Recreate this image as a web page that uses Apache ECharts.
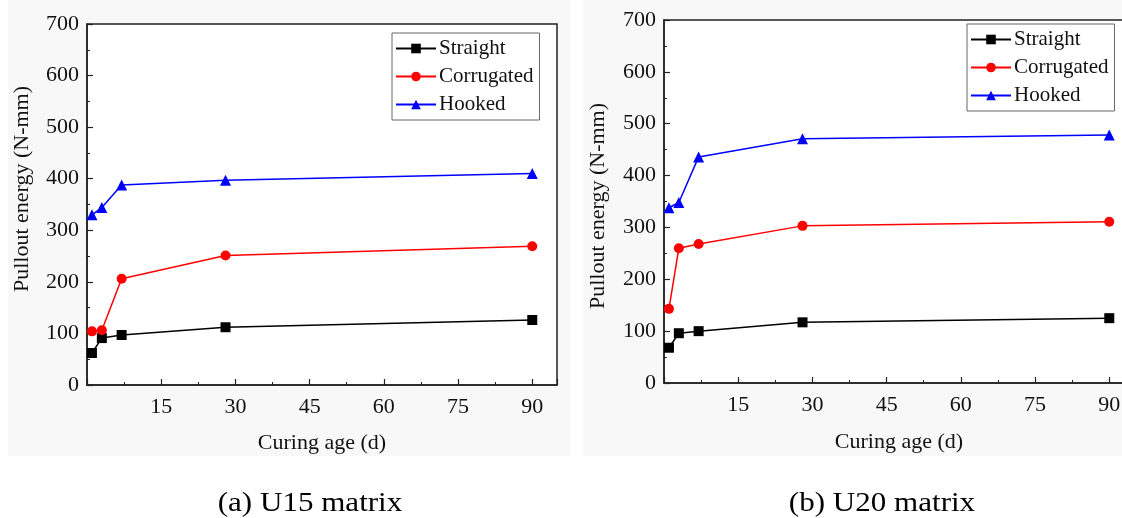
<!DOCTYPE html>
<html>
<head>
<meta charset="utf-8">
<script src="https://cdn.jsdelivr.net/npm/echarts@6/dist/echarts.min.js"></script>
<style>
html,body{margin:0;padding:0;background:#fff;}
#chart{width:1122px;height:518px;}
</style>
</head>
<body>
<div id="chart"></div>
<script>
// Curing ages (days)
const curingAge = [1, 3, 7, 28, 90];
const seriesNames = ['Straight', 'Corrugated', 'Hooked'];
// (a) U15 matrix
const u15Straight   = [62, 91, 97, 112, 126];
const u15Corrugated = [104, 106, 206, 251, 269];
const u15Hooked     = [330, 344, 388, 397, 410];
// (b) U20 matrix
const u20Straight   = [68, 96, 100, 117, 125];
const u20Corrugated = [143, 260, 268, 303, 311];
const u20Hooked     = [338, 348, 436, 471, 478];
const xTicks = [15, 30, 45, 60, 75, 90];
const panelCaptions = ['(a) U15 matrix', '(b) U20 matrix'];
const yTitle = 'Pullout energy (N-mm)';
const xTitle = 'Curing age (d)';

const FONT = '"Liberation Serif", "Times New Roman", serif';
const colors = ['#000000', '#ff0000', '#0000ff'];
const symbols = ['rect', 'circle', 'triangle'];
const symSizes = [10, 10, 11];

function pairs(ys) { return curingAge.map((x, i) => [x, ys[i]]); }

function xAxisDef(gi) {
  return {
    gridIndex: gi, type: 'value', min: 0, max: 95, interval: 15,
    axisLine: { show: true, lineStyle: { color: '#222', width: 1.5 } },
    axisTick: { show: true, inside: true, length: 6, lineStyle: { color: '#222', width: 1.2 } },
    minorTick: { show: true, splitNumber: 2, length: 3, lineStyle: { color: '#222', width: 1 } },
    splitLine: { show: false },
    axisLabel: {
      margin: 11, color: '#111', fontFamily: FONT, fontSize: 22,
      formatter: v => (xTicks.indexOf(v) >= 0 ? String(v) : '')
    }
  };
}
function yAxisDef(gi) {
  return {
    gridIndex: gi, type: 'value', min: 0, max: 700, interval: 100,
    axisLine: { show: true, lineStyle: { color: '#222', width: 1.5 } },
    axisTick: { show: true, inside: true, length: 6, lineStyle: { color: '#222', width: 1.2 } },
    minorTick: { show: true, splitNumber: 2, length: 3, lineStyle: { color: '#222', width: 1 } },
    splitLine: { show: false },
    axisLabel: { margin: 8, color: '#111', fontFamily: FONT, fontSize: 22 }
  };
}
function lineSeries(name, idx, data, gi) {
  return {
    name: name, type: 'line', xAxisIndex: gi, yAxisIndex: gi,
    data: pairs(data), symbol: symbols[idx], symbolSize: symSizes[idx],
    lineStyle: { color: colors[idx], width: 1.5 },
    itemStyle: { color: colors[idx] },
    emphasis: { disabled: true }, animation: false, z: 3 + idx
  };
}
function legendDef(left, top) {
  return {
    orient: 'vertical', left: left, top: top, data: seriesNames,
    itemWidth: 40, itemHeight: 12, itemGap: 7,
    padding: [5, 6, 5, 3],
    borderColor: '#666', borderWidth: 1, backgroundColor: '#fff',
    textStyle: { fontFamily: FONT, fontSize: 21, color: '#111', padding: [0, 0, 0, -2] },
    selectedMode: false
  };
}

const chart = echarts.init(document.getElementById('chart'), null, { renderer: 'canvas' });
chart.setOption({
  backgroundColor: '#ffffff',
  animation: false,
  graphic: [
    { type: 'rect', shape: { x: 8, y: 0, width: 562, height: 456 }, style: { fill: '#f8f8f8' }, z: -10, silent: true },
    { type: 'rect', shape: { x: 583, y: 0, width: 539, height: 456 }, style: { fill: '#f8f8f8' }, z: -10, silent: true },
    { type: 'text', x: 22, y: 189, rotation: Math.PI / 2, style: { text: yTitle, font: '22px ' + FONT, fill: '#111', textAlign: 'center', textVerticalAlign: 'middle' } },
    { type: 'text', x: 598, y: 206, rotation: Math.PI / 2, style: { text: yTitle, font: '22px ' + FONT, fill: '#111', textAlign: 'center', textVerticalAlign: 'middle' } },
    { type: 'text', x: 322, y: 443, style: { text: xTitle, font: '22px ' + FONT, fill: '#111', textAlign: 'center', textVerticalAlign: 'middle' } },
    { type: 'text', x: 899, y: 442, style: { text: xTitle, font: '22px ' + FONT, fill: '#111', textAlign: 'center', textVerticalAlign: 'middle' } },
    { type: 'text', x: 310, y: 504, scaleX: 1.15, style: { text: panelCaptions[0], font: '27px ' + FONT, fill: '#000', textAlign: 'center', textVerticalAlign: 'middle' } },
    { type: 'text', x: 882, y: 504, scaleX: 1.15, style: { text: panelCaptions[1], font: '27px ' + FONT, fill: '#000', textAlign: 'center', textVerticalAlign: 'middle' } }
  ],
  grid: [
    { left: 87, top: 24, width: 470, height: 361, show: true, backgroundColor: '#fff', borderColor: '#222', borderWidth: 1.5, containLabel: false, outerBoundsMode: 'none' },
    { left: 664, top: 20, width: 470, height: 363, show: true, backgroundColor: '#fff', borderColor: '#222', borderWidth: 1.5, containLabel: false, outerBoundsMode: 'none' }
  ],
  xAxis: [xAxisDef(0), xAxisDef(1)],
  yAxis: [yAxisDef(0), yAxisDef(1)],
  legend: [legendDef(392, 33), legendDef(967, 24)],
  series: [
    lineSeries(seriesNames[0], 0, u15Straight, 0),
    lineSeries(seriesNames[1], 1, u15Corrugated, 0),
    lineSeries(seriesNames[2], 2, u15Hooked, 0),
    lineSeries(seriesNames[0], 0, u20Straight, 1),
    lineSeries(seriesNames[1], 1, u20Corrugated, 1),
    lineSeries(seriesNames[2], 2, u20Hooked, 1)
  ]
});
</script>
</body>
</html>
